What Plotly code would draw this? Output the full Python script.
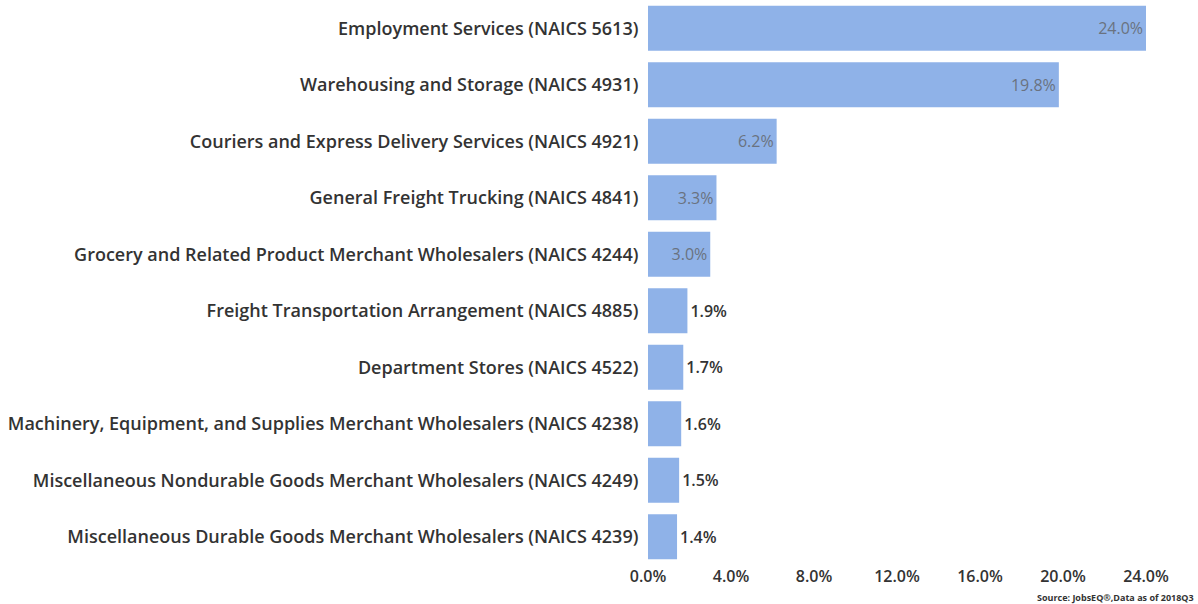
import plotly.graph_objects as go

categories = [
    "Employment Services (NAICS 5613)",
    "Warehousing and Storage (NAICS 4931)",
    "Couriers and Express Delivery Services (NAICS 4921)",
    "General Freight Trucking (NAICS 4841)",
    "Grocery and Related Product Merchant Wholesalers (NAICS 4244)",
    "Freight Transportation Arrangement (NAICS 4885)",
    "Department Stores (NAICS 4522)",
    "Machinery, Equipment, and Supplies Merchant Wholesalers (NAICS 4238)",
    "Miscellaneous Nondurable Goods Merchant Wholesalers (NAICS 4249)",
    "Miscellaneous Durable Goods Merchant Wholesalers (NAICS 4239)",
]
values = [24.0, 19.8, 6.2, 3.3, 3.0, 1.9, 1.7, 1.6, 1.5, 1.4]
tick_vals = [0, 4, 8, 12, 16, 20, 24]
tick_text = ["0.0%", "4.0%", "8.0%", "12.0%", "16.0%", "20.0%", "24.0%"]
source_text = "Source: JobsEQ®,Data as of 2018Q3"

labels = [f"{v:.1f}%" for v in values]
positions = ["inside" if v >= 3 else "outside" for v in values]

fig = go.Figure(
    go.Bar(
        x=values,
        y=categories,
        orientation="h",
        marker=dict(color="#8fb2e8", line=dict(width=0)),
        text=labels,
        textposition=positions,
        insidetextanchor="end",
        insidetextfont=dict(family="Open Sans", size=16, color="#6a7280"),
        outsidetextfont=dict(family="Open Sans", size=16, color="#333333", weight=600),
        cliponaxis=False,
    )
)

fig.update_layout(
    width=1198,
    height=604,
    margin=dict(l=648, r=52, t=0, b=39),
    paper_bgcolor="white",
    plot_bgcolor="white",
    bargap=0.2,
    showlegend=False,
    font=dict(family="Open Sans", size=16, color="#333333"),
    xaxis=dict(
        range=[0, 24],
        tickvals=tick_vals,
        ticktext=tick_text,
        showgrid=False,
        zeroline=False,
        showline=False,
        tickfont=dict(family="Open Sans", size=16, color="#333333", weight=600),
        ticks="",
    ),
    yaxis=dict(
        autorange="reversed",
        showgrid=False,
        zeroline=False,
        showline=False,
        ticks="outside",
        ticklen=5,
        tickcolor="white",
        tickfont=dict(family="Open Sans", size=18, color="#333333", weight=600),
    ),
    annotations=[
        dict(
            text=f"<b>{source_text}</b>",
            xref="paper",
            yref="paper",
            x=1.1,
            y=0,
            yshift=-24,
            xanchor="right",
            yanchor="top",
            showarrow=False,
            font=dict(family="Open Sans", size=9, color="#333333"),
        )
    ],
)

fig.write_html(
    "out.html",
    config={"displayModeBar": False},
    post_script="document.body.style.margin='0';",
)
